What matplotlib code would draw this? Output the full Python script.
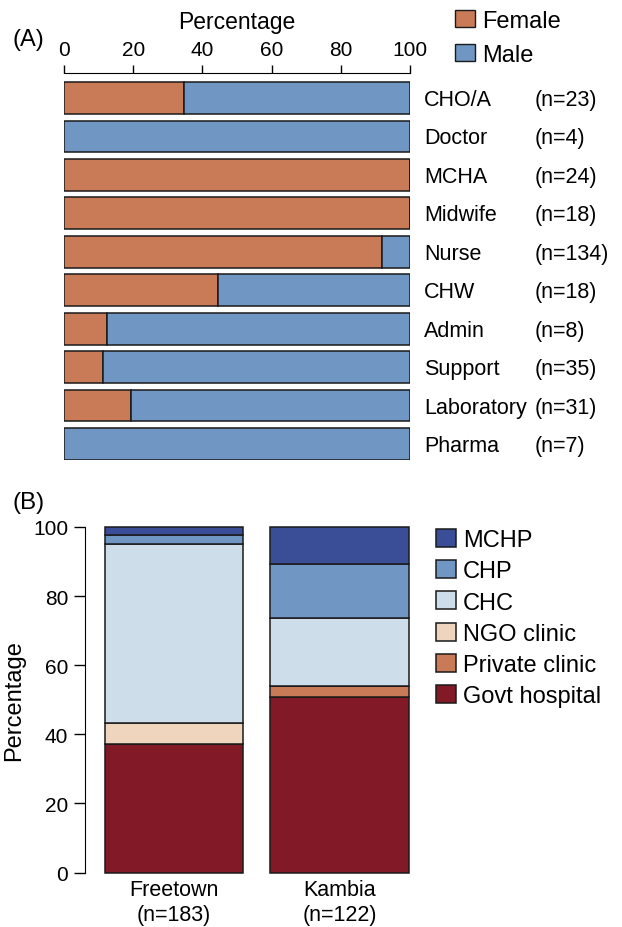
import matplotlib
matplotlib.use("Agg")
import matplotlib.pyplot as plt
import matplotlib.transforms as mtransforms
from matplotlib.patches import Patch
import numpy as np

plt.rcParams['font.family'] = ['Liberation Sans', 'DejaVu Sans']

# panel A: gender split per cadre
roles = ['CHO/A', 'Doctor', 'MCHA', 'Midwife', 'Nurse', 'CHW',
         'Admin', 'Support', 'Laboratory', 'Pharma']
role_n = [23, 4, 24, 18, 134, 18, 8, 35, 31, 7]
female_pct = [34.8, 0, 100, 100, 91.8, 44.4, 12.5, 11.4, 19.4, 0]
male_pct = [100 - f for f in female_pct]

# panel B: facility type by district
sites = ['Freetown', 'Kambia']
site_n = [183, 122]
facility_types = ['Govt hospital', 'Private clinic', 'NGO clinic', 'CHC', 'CHP', 'MCHP']
facility_pct = {
    'Govt hospital': [37.2, 50.8],
    'Private clinic': [0.0, 3.3],
    'NGO clinic': [6.0, 0.0],
    'CHC': [51.9, 19.7],
    'CHP': [2.7, 15.6],
    'MCHP': [2.2, 10.7],
}

c_female = '#C97B57'
c_male = '#7096C3'
facility_colors = {
    'Govt hospital': '#811926',
    'Private clinic': '#C97B57',
    'NGO clinic': '#EFD4BE',
    'CHC': '#CDDDEA',
    'CHP': '#7096C3',
    'MCHP': '#3A4E98',
}
edge = '#1a1a1a'

W, H = 622, 928
fig = plt.figure(figsize=(W / 100, H / 100), dpi=100)


def px_rect(left, top, right, bottom):
    return [left / W, 1 - bottom / H, (right - left) / W, (bottom - top) / H]


# ---------- (A) ----------
axA = fig.add_axes(px_rect(64, 74, 410, 461))
y = np.arange(len(roles))
axA.barh(y, female_pct, height=0.83, color=c_female, edgecolor=edge, linewidth=1.1)
axA.barh(y, male_pct, left=female_pct, height=0.83, color=c_male, edgecolor=edge, linewidth=1.1)
axA.set_xlim(0, 100)
axA.set_ylim(9.417, -0.651)
for s in ['left', 'right', 'bottom']:
    axA.spines[s].set_visible(False)
axA.xaxis.tick_top()
axA.xaxis.set_label_position('top')
axA.set_xticks([0, 20, 40, 60, 80, 100])
axA.tick_params(axis='x', length=6, width=1, pad=4, labelsize=15)
axA.set_yticks([])
axA.set_xlabel('Percentage', fontsize=16.5, labelpad=9)

tr = mtransforms.blended_transform_factory(fig.transFigure, axA.transData)
for i, (r, n) in enumerate(zip(roles, role_n)):
    axA.text(424 / W, i + 0.04, r, transform=tr, va='center', ha='left', fontsize=15.5)
    axA.text(535 / W, i + 0.04, f'(n={n})', transform=tr, va='center', ha='left', fontsize=15.5)

legA = [Patch(facecolor=c_female, edgecolor=edge, label='Female'),
        Patch(facecolor=c_male, edgecolor=edge, label='Male')]
fig.legend(handles=legA, loc='upper left', bbox_to_anchor=(455 / W, 1 - 11 / H),
           frameon=False, fontsize=17, handlelength=0.85, handleheight=0.7,
           handletextpad=0.3, labelspacing=0.5, borderpad=0, borderaxespad=0)

fig.text(12 / W, 1 - 40 / H, '(A)', fontsize=17, va='center', ha='left')

# ---------- (B) ----------
axB = fig.add_axes(px_rect(85, 528, 409, 873.5))
x = np.arange(len(sites))
bottom = np.zeros(len(sites))
for ft in facility_types:
    vals = np.array(facility_pct[ft])
    axB.bar(x, vals, bottom=bottom, width=0.834, color=facility_colors[ft],
            edgecolor=edge, linewidth=1.1, label=ft, clip_on=False)
    bottom += vals
axB.set_xlim(-0.538, 1.42)
axB.set_ylim(0, 100)
for s in ['top', 'right', 'bottom']:
    axB.spines[s].set_visible(False)
axB.set_yticks([0, 20, 40, 60, 80, 100])
axB.tick_params(axis='y', length=8, width=1, pad=4, labelsize=15)
axB.set_xticks(x)
axB.set_xticklabels([f'{s}\n(n={n})' for s, n in zip(sites, site_n)], fontsize=15.5,
                    linespacing=1.22)
axB.tick_params(axis='x', length=0, pad=5)
axB.set_ylabel('Percentage', fontsize=17, labelpad=6)

handles, labels = axB.get_legend_handles_labels()
fig.legend(handles[::-1], labels[::-1], loc='upper left',
           bbox_to_anchor=(436 / W, 1 - 530 / H), frameon=False, fontsize=17,
           handlelength=0.85, handleheight=0.8, handletextpad=0.3,
           labelspacing=0.38, borderpad=0, borderaxespad=0)

fig.text(12 / W, 1 - 503 / H, '(B)', fontsize=17.5, va='center', ha='left')

fig.savefig('out.png', dpi=100)
